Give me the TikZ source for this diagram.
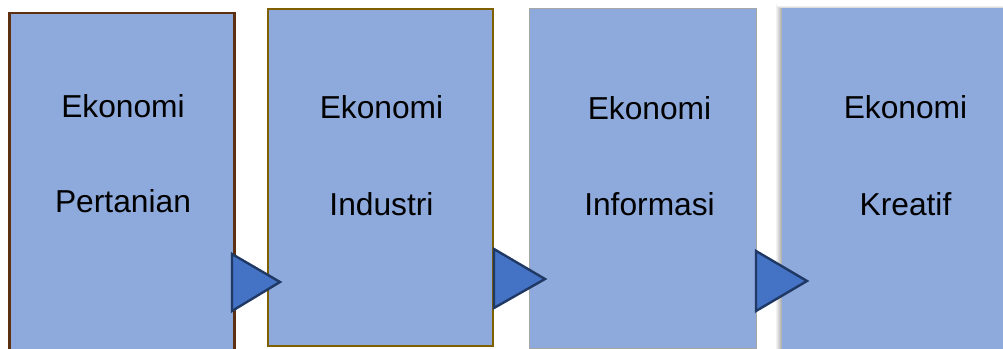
\documentclass[tikz,border=0pt]{standalone}
\usepackage{fontspec}
\setmainfont{Liberation Sans}
\definecolor{boxblue}{HTML}{8EA9DB}
\definecolor{triblue}{HTML}{4472C4}
\definecolor{trinavy}{HTML}{1F3864}
\definecolor{agribrown}{HTML}{5E3012}
\definecolor{induolive}{HTML}{7F6000}
\definecolor{infogray}{HTML}{A6A6A6}
\tikzset{
  stage/.style={rectangle, fill=boxblue, inner sep=0pt},
  word/.style={anchor=base, inner sep=0pt, font=\fontsize{23.8pt}{28pt}\selectfont},
  tri/.style={fill=triblue, draw=trinavy, line width=1.8pt, line join=miter}
}
\begin{document}
\begin{tikzpicture}[x=0.75pt, y=-0.75pt]
	\useasboundingbox (0,0) rectangle (1003,349);
	\clip (0,0) rectangle (1003,349);
	% stages
	\node[stage, draw=agribrown, line width=1.9pt, minimum width=169pt, minimum height=256.5pt] (agri) at (122,184) {};
	\node[stage, draw=induolive, line width=1.9pt, minimum width=168.75pt, minimum height=252.75pt] (indu) at (380.5,177.5) {};
	\node[stage, draw=infogray, line width=0.6pt, minimum width=170.25pt, minimum height=255pt] (info) at (642.5,178.5) {};
	\shade[left color=white, right color=black!35] (775,5) rectangle (782,349);
	\shade[top color=white, bottom color=black!20] (777,5) rectangle (1003,8);
	\node[stage, minimum width=172.5pt, minimum height=260.25pt] (krea) at (897,181.5) {};
	% labels
	\node[word] (agri1) at (123,117.3) {Ekonomi};
	\node[word] (agri2) at (123,212.7) {Pertanian};
	\node[word] (indu1) at (381.5,119) {Ekonomi};
	\node[word] (indu2) at (381.5,215) {Industri};
	\node[word] (info1) at (649.5,119.3) {Ekonomi};
	\node[word] (info2) at (649.5,215) {Informasi};
	\node[word] (krea1) at (905.5,119) {Ekonomi};
	\node[word] (krea2) at (905.5,215) {Kreatif};
	% arrows
	\draw[tri] (232,254) -- (280,282) -- (232,311) -- cycle;
	\draw[tri] (494,249) -- (545,279) -- (494,308) -- cycle;
	\draw[tri] (756,251) -- (807,281) -- (756,311) -- cycle;
\end{tikzpicture}
\end{document}
